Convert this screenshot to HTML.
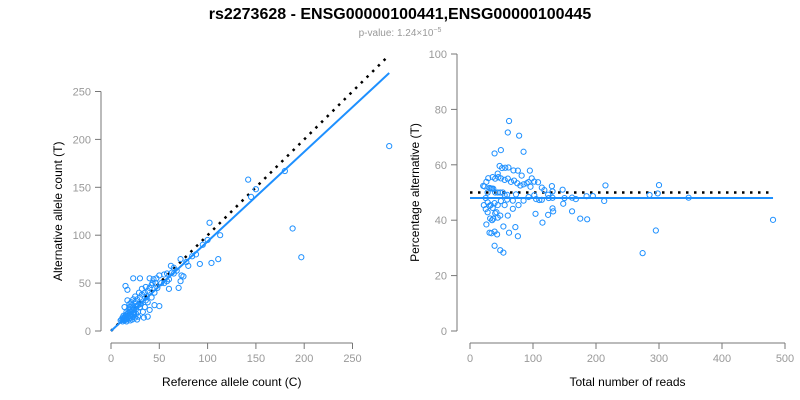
<!DOCTYPE html>
<html><head><meta charset="utf-8"><style>
body{margin:0;background:#fff;font-family:"Liberation Sans",Arial,sans-serif}
svg{display:block}
</style></head><body>
<svg id="c" width="800" height="400" xmlns="http://www.w3.org/2000/svg">
<text x="400" y="19" text-anchor="middle" font-size="16" font-weight="bold">rs2273628 - ENSG00000100441,ENSG00000100445</text>
<text x="400" y="36" text-anchor="middle" font-size="10" fill="#999">p-value: 1.24×10<tspan dy="-4" font-size="7">−5</tspan></text>
<g id="left"></g>
<g id="right"></g>
</svg>
<script>
const refCounts=[12,13,14,15,16,17,18,19,20,21,22,23,24,25,14,15,16,17,18,20,22,24,26,28,30,12,13,11,10,18,20,22,25,27,30,32,35,38,40,42,15,17,23,30,40,44,46,50,55,58,60,62,70,72,72,73,75,92,100,102,104,111,113,142,145,150,180,188,197,288,33,35,38,40,45,50,28,30,26,34,24,19,21,23,25,29,32,36,38,42,45,48,52,16,14,17,19,21,26,31,36,28,22,27,20,16,65,68,78,84,88,95,63,55,47,43,37,58,65,80,60];
const altCounts=[10,12,11,13,12,14,15,13,16,14,15,17,18,14,14,16,17,18,19,20,22,24,26,27,29,14,16,12,11,22,25,27,30,33,35,38,40,42,45,48,47,43,55,55,55,54,50,58,59,60,44,68,45,75,52,58,57,70,95,113,71,75,100,158,140,148,167,107,77,193,20,25,15,22,27,26,20,25,18,14,20,25,30,33,36,40,44,46,30,35,40,45,50,20,25,32,28,18,23,28,32,15,12,12,11,10,66,63,72,78,80,90,61,50,55,50,36,52,60,68,54];
const leftXTicks=[0,50,100,150,200,250];
const leftYTicks=[0,50,100,150,200,250];
const rightXTicks=[0,100,200,300,400,500];
const rightYTicks=[0,20,40,60,80,100];
const nullSlope=1.0, fitSlope=0.935;
const nullPct=50, fitPct=48;

const NS="http://www.w3.org/2000/svg";
function mk(p,tag,a){const e=document.createElementNS(NS,tag);for(const k in a)e.setAttribute(k,a[k]);p.appendChild(e);return e;}
const BLUE="#1e90ff", GREY="#777";

function axes(g,xs,ys,xt,yt,yAxX,xAxY,xl,yl,ylx){
  const xa=mk(g,'line',{x1:xs(xt[0]),x2:xs(xt[xt.length-1]),y1:xAxY,y2:xAxY,stroke:GREY});
  
  
  const ya=mk(g,'line',{x1:yAxX,x2:yAxX,y1:ys(yt[0]),y2:ys(yt[yt.length-1]),stroke:GREY});
  
  
  xt.forEach(v=>{
    const t=mk(g,'line',{x1:xs(v),x2:xs(v),y1:xAxY,y2:xAxY+6,stroke:GREY});
    
    
    const l=mk(g,'text',{x:xs(v),y:xAxY+19,'text-anchor':'middle','font-size':11,fill:'#999'});
    l.textContent=v;
    
    
  });
  yt.forEach(v=>{
    const t=mk(g,'line',{x1:yAxX-6,x2:yAxX,y1:ys(v),y2:ys(v),stroke:GREY});
    
    
    const l=mk(g,'text',{x:yAxX-10,y:ys(v)+4,'text-anchor':'end','font-size':11,fill:'#999'});
    l.textContent=v;
    
    
  });
  const xtl=mk(g,'text',{x:(xs(xt[0])+xs(xt[xt.length-1]))/2,y:386,'text-anchor':'middle','font-size':12});
  xtl.textContent=xl;
  
  
  const cy=(ys(yt[0])+ys(yt[yt.length-1]))/2;
  const ytl=mk(g,'text',{x:ylx,y:cy,'text-anchor':'middle','font-size':12,transform:`rotate(-90 ${ylx} ${cy})`});
  ytl.textContent=yl;
  
  
}
// left
const L=document.getElementById('left');
const lx=v=>111+v*0.966, ly=v=>331-v*0.958;
axes(L,lx,ly,leftXTicks,leftYTicks,101,343,'Reference allele count (C)','Alternative allele count (T)',62);
const maxRef=Math.max(...refCounts);
const ln=mk(L,'line',{x1:lx(0),y1:ly(0),x2:lx(maxRef),y2:ly(maxRef*nullSlope),stroke:'#000','stroke-width':2.5,'stroke-dasharray':'2.5 5.5'});


const lf=mk(L,'line',{x1:lx(0),y1:ly(0),x2:lx(maxRef),y2:ly(maxRef*fitSlope),stroke:BLUE,'stroke-width':2});


refCounts.forEach((r,i)=>{
  const c=mk(L,'circle',{cx:lx(r),cy:ly(altCounts[i]),r:2.6,fill:'none',stroke:BLUE,'stroke-width':1});
  
  
});
// right
const R=document.getElementById('right');
const rx=v=>470+v*0.63, ry=v=>331-v*2.77;
axes(R,rx,ry,rightXTicks,rightYTicks,457,343,'Total number of reads','Percentage alternative (T)',419);
const totals=refCounts.map((r,i)=>r+altCounts[i]);
const maxT=Math.max(...totals);
const rn=mk(R,'line',{x1:rx(0),y1:ry(nullPct),x2:rx(maxT),y2:ry(nullPct),stroke:'#000','stroke-width':2.5,'stroke-dasharray':'2.5 5.5'});


const rf=mk(R,'line',{x1:rx(0),y1:ry(fitPct),x2:rx(maxT),y2:ry(fitPct),stroke:BLUE,'stroke-width':2});


totals.forEach((t,i)=>{
  const c=mk(R,'circle',{cx:rx(t),cy:ry(altCounts[i]/t*100),r:2.6,fill:'none',stroke:BLUE,'stroke-width':1});
  
  
});
</script>
</body></html>
